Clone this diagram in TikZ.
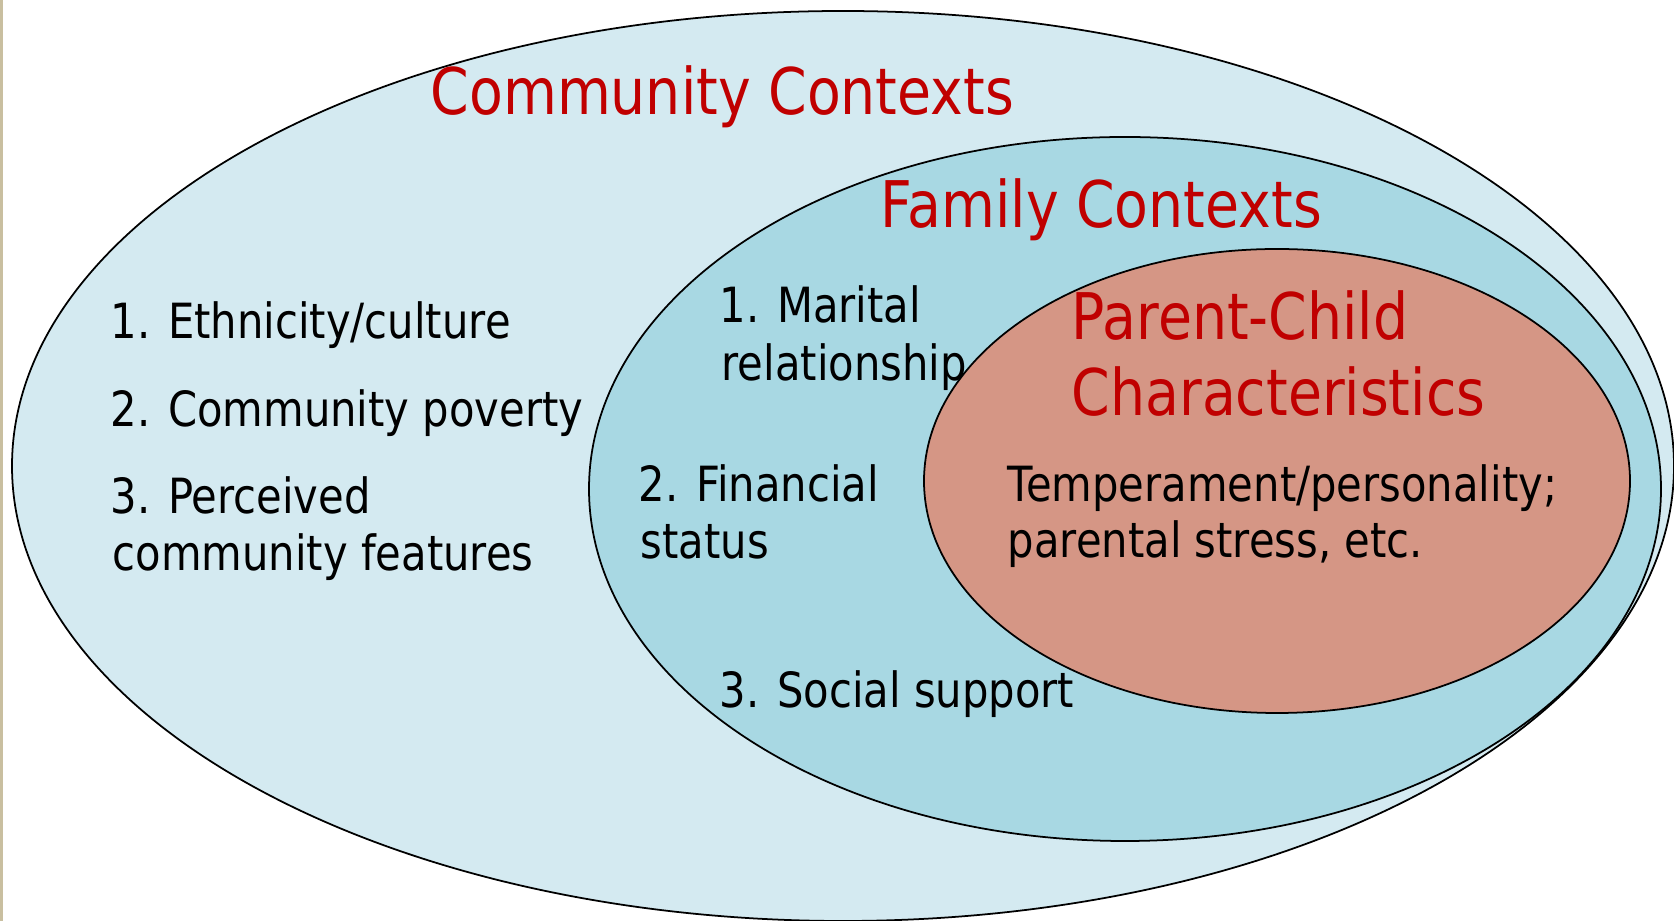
\documentclass[tikz,border=0pt]{standalone}
\usepackage{fontspec}
\setmainfont{DejaVu Sans}[FakeStretch=0.86]
\usetikzlibrary{shapes.geometric}
\definecolor{commfill}{RGB}{212,234,241}
\definecolor{famfill}{RGB}{168,216,227}
\definecolor{pcfill}{RGB}{213,150,133}
\definecolor{titlered}{RGB}{192,0,0}
\definecolor{edgebeige}{RGB}{201,191,160}

\begin{document}
\begin{tikzpicture}
    [
        circle/.style={ellipse, draw, line width=0.5pt, inner sep=0pt, outer sep=0pt},
        title/.style={anchor=base west, inner sep=0pt, text=titlered, font=\fontsize{18.3pt}{22pt}\selectfont},
        item/.style={anchor=base west, inner sep=0pt, font=\fontsize{13.8pt}{16.5pt}\selectfont},
    ]
    \useasboundingbox (0,0) rectangle (16.74,9.21);
    \fill[edgebeige] (0,0) rectangle (0.03,9.21);

    % community
    \node (community) at (8.43,4.55) [circle, fill=commfill, minimum width=16.62cm, minimum height=9.10cm] {};
    \node (ctitle) at (4.30,8.06) [title] {Community Contexts};
    \node (c1)  at (1.10,5.82) [item] {1. Ethnicity/culture};
    \node (c2)  at (1.10,4.94) [item] {2. Community poverty};
    \node (c3a) at (1.10,4.07) [item] {3. Perceived};
    \node (c3b) at (1.12,3.50) [item] {community features};

    % family
    \node (family) at (11.25,4.32) [circle, fill=famfill, minimum width=10.72cm, minimum height=7.04cm] {};
    \node (ftitle) at (8.80,6.93) [title] {Family Contexts};
    \node (f1a) at (7.19,5.98) [item] {1. Marital};
    \node (f1b) at (7.21,5.40) [item] {relationship};
    \node (f2a) at (6.38,4.19) [item] {2. Financial};
    \node (f2b) at (6.40,3.62) [item] {status};
    \node (f3)  at (7.19,2.13) [item] {3. Social support};

    % parent-child
    \node (parentchild) at (12.77,4.40) [circle, fill=pcfill, minimum width=7.06cm, minimum height=4.64cm] {};
    \node (ptitle1) at (10.71,5.81) [title] {Parent-Child};
    \node (ptitle2) at (10.71,5.05) [title] {Characteristics};
    \node (p1) at (10.07,4.19) [item] {Temperament/personality;};
    \node (p2) at (10.07,3.63) [item] {parental stress, etc.};

\end{tikzpicture}
\end{document}
